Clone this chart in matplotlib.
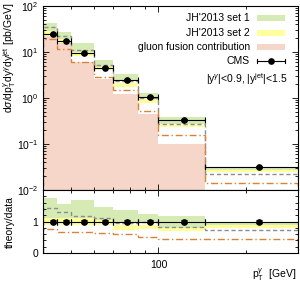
import numpy as np
import matplotlib
matplotlib.use("Agg")
import matplotlib.pyplot as plt
from matplotlib.patches import Rectangle
from matplotlib.lines import Line2D
from matplotlib.ticker import FixedLocator, NullFormatter, LogLocator

plt.rcParams['font.family'] = ['Liberation Sans', 'DejaVu Sans']
plt.rcParams['mathtext.fontset'] = 'custom'
plt.rcParams['mathtext.rm'] = 'Liberation Sans'
plt.rcParams['mathtext.it'] = 'Liberation Sans:italic'
plt.rcParams['mathtext.bf'] = 'Liberation Sans:bold'

# ---- data ----
edges = [40, 45, 50, 60, 70, 85, 100, 145, 300]
pt = [43.6, 48.1, 55.4, 65.8, 78.0, 93.3, 122.5, 221.0]
cms = [25.0, 17.7, 9.3, 4.6, 2.44, 1.05, 0.336, 0.031]
cms_relerr = [0.04, 0.04, 0.04, 0.04, 0.04, 0.04, 0.04, 0.05]
# theory / data ratios
set1_hi = [1.75, 1.56, 1.69, 1.46, 1.37, 1.25, 1.16, 1.00]
set1_lo = [1.00, 1.00, 1.00, 1.00, 0.95, 0.95, 0.80, 0.90]
set1_c = [1.42, 1.29, 1.16, 1.12, 0.95, 0.97, 0.81, 0.73]
set2_hi = [1.12, 1.10, 1.10, 1.05, 0.88, 0.90, 0.78, 0.90]
set2_lo = [0.88, 0.90, 0.90, 0.90, 0.72, 0.76, 0.70, 0.80]
set2_c = [0.77, 0.66, 0.66, 0.62, 0.60, 0.50, 0.46, 0.46]
# gluon fusion contribution [pb/GeV]
gluon = [23.8, 16.0, 6.0, 2.57, 1.22, 0.45, 0.10, 0.008]

legend_labels = ["JH'2013 set 1", "JH'2013 set 2", "gluon fusion contribution", "CMS"]

GREEN = '#d5ebb3'
YELLOW = '#ffff9c'
PINK = '#f6d6c9'
GRAY = '#8c8c8c'
ORANGE = '#d9823a'

edges_a = np.array(edges, float)
pt_a = np.array(pt)
cms_a = np.array(cms)
xerr = [pt_a - edges_a[:-1], edges_a[1:] - pt_a]

W, H = 300, 282
fig = plt.figure(figsize=(W / 100, H / 100), dpi=100)

def fx(px):
    return px / W

def fy(py):
    return 1 - py / H

left, right = 42.5, 297.5
top = 6
ax = fig.add_axes([fx(left), fy(190), fx(right - left), (190 - top) / H])
axr = fig.add_axes([fx(left), fy(253), fx(right - left), (253 - 190) / H])

# ---- top panel ----
ax.stairs(gluon, edges, baseline=1e-4, fill=True, color=PINK, lw=0)
ax.stairs(np.array(set1_hi) * cms_a, edges, baseline=np.array(set1_lo) * cms_a,
          fill=True, color=GREEN, lw=0)
ax.stairs(np.array(set2_hi) * cms_a, edges, baseline=np.array(set2_lo) * cms_a,
          fill=True, color=YELLOW, lw=0)
ax.stairs(np.array(set1_c) * cms_a, edges, color=GRAY, ls=(0, (3, 2)), lw=1.0)
ax.stairs(np.array(set2_c) * cms_a, edges, color=ORANGE, ls=(0, (5, 2, 1, 2)), lw=1.0)
ax.errorbar(pt_a, cms_a, xerr=xerr, yerr=cms_a * np.array(cms_relerr), fmt='o',
            color='k', ms=3.8, elinewidth=0.8, capsize=2, capthick=0.8, zorder=5)

ax.set_xscale('log')
ax.set_yscale('log')
ax.set_xlim(40, 300)
ax.set_ylim(1e-2, 1e2)
ax.xaxis.set_major_locator(FixedLocator([100]))
ax.xaxis.set_minor_locator(FixedLocator([50, 60, 70, 80, 90, 200, 300]))
ax.xaxis.set_major_formatter(NullFormatter())
ax.xaxis.set_minor_formatter(NullFormatter())
ax.yaxis.set_major_locator(LogLocator(base=10, numticks=10))
ax.yaxis.set_minor_locator(LogLocator(base=10, subs=np.arange(2, 10), numticks=10))

# ---- ratio panel ----
axr.stairs(set1_hi, edges, baseline=set1_lo, fill=True, color=GREEN, lw=0)
axr.stairs(set2_hi, edges, baseline=set2_lo, fill=True, color=YELLOW, lw=0)
axr.stairs(set1_c, edges, color=GRAY, ls=(0, (3, 2)), lw=1.0)
axr.stairs(set2_c, edges, color=ORANGE, ls=(0, (5, 2, 1, 2)), lw=1.0)
ones = np.ones(len(pt))
axr.errorbar(pt_a, ones, xerr=xerr, yerr=cms_relerr, fmt='o', color='k', ms=3.8,
             elinewidth=0.8, capsize=2, capthick=0.8, zorder=5)
axr.set_xscale('log')
axr.set_xlim(40, 300)
axr.set_ylim(0, 2)
axr.xaxis.set_major_locator(FixedLocator([100]))
axr.xaxis.set_minor_locator(FixedLocator([50, 60, 70, 80, 90, 200, 300]))
axr.xaxis.set_major_formatter(plt.FixedFormatter(['100']))
axr.xaxis.set_minor_formatter(NullFormatter())
axr.set_yticks([0, 1, 2])
axr.set_yticklabels(['0', '1', ''])
axr.yaxis.set_minor_locator(FixedLocator(np.arange(0.2, 2.0, 0.2)))

for a in (ax, axr):
    a.tick_params(which='both', direction='in', top=True, right=True,
                  labelsize=7.5, width=0.6, pad=3)
    a.tick_params(which='major', length=4)
    a.tick_params(which='minor', length=2.2)
    for s in a.spines.values():
        s.set_linewidth(0.8)
axr.tick_params(axis='x', pad=5)

# ---- labels ----
fig.text(fx(10), fy(58),
         r'd$\sigma$/dp$_{\rm T}^{\gamma}$dy$^{\gamma}$dy$^{\rm jet}$ [pb/GeV]',
         rotation=90, ha='center', va='center', fontsize=7.5)
fig.text(fx(10), fy(222), 'theory/data', rotation=90, ha='center', va='center',
         fontsize=7.5)
fig.text(fx(296), fy(275), r'p$_{\rm T}^{\gamma}$  [GeV]', ha='right', va='center',
         fontsize=7.5)

# ---- legend (drawn manually, right aligned) ----
rows = [18, 33, 47, 61]
cols = [GREEN, YELLOW, PINK, None]
for lab, ry, c in zip(legend_labels, rows, cols):
    fig.text(fx(250), fy(ry), lab, ha='right', va='center', fontsize=7.5)
    if c is not None:
        fig.patches.append(Rectangle((fx(257), fy(ry + 3)), fx(28), 6 / H, color=c,
                                     transform=fig.transFigure, lw=0))
    else:
        fig.lines.append(Line2D([fx(257), fx(285)], [fy(ry), fy(ry)], color='k',
                                lw=0.8, transform=fig.transFigure))
        for xx in (257, 285):
            fig.lines.append(Line2D([fx(xx), fx(xx)], [fy(ry - 2), fy(ry + 2)],
                                    color='k', lw=0.8, transform=fig.transFigure))
        fig.lines.append(Line2D([fx(271)], [fy(ry)], marker='o', ms=3.8, color='k',
                                transform=fig.transFigure))
fig.text(fx(288), fy(79), r'|y$^{\gamma}$|<0.9, |y$^{\rm jet}$|<1.5', ha='right',
         va='center', fontsize=7.5)

fig.savefig('out.png', dpi=100)
